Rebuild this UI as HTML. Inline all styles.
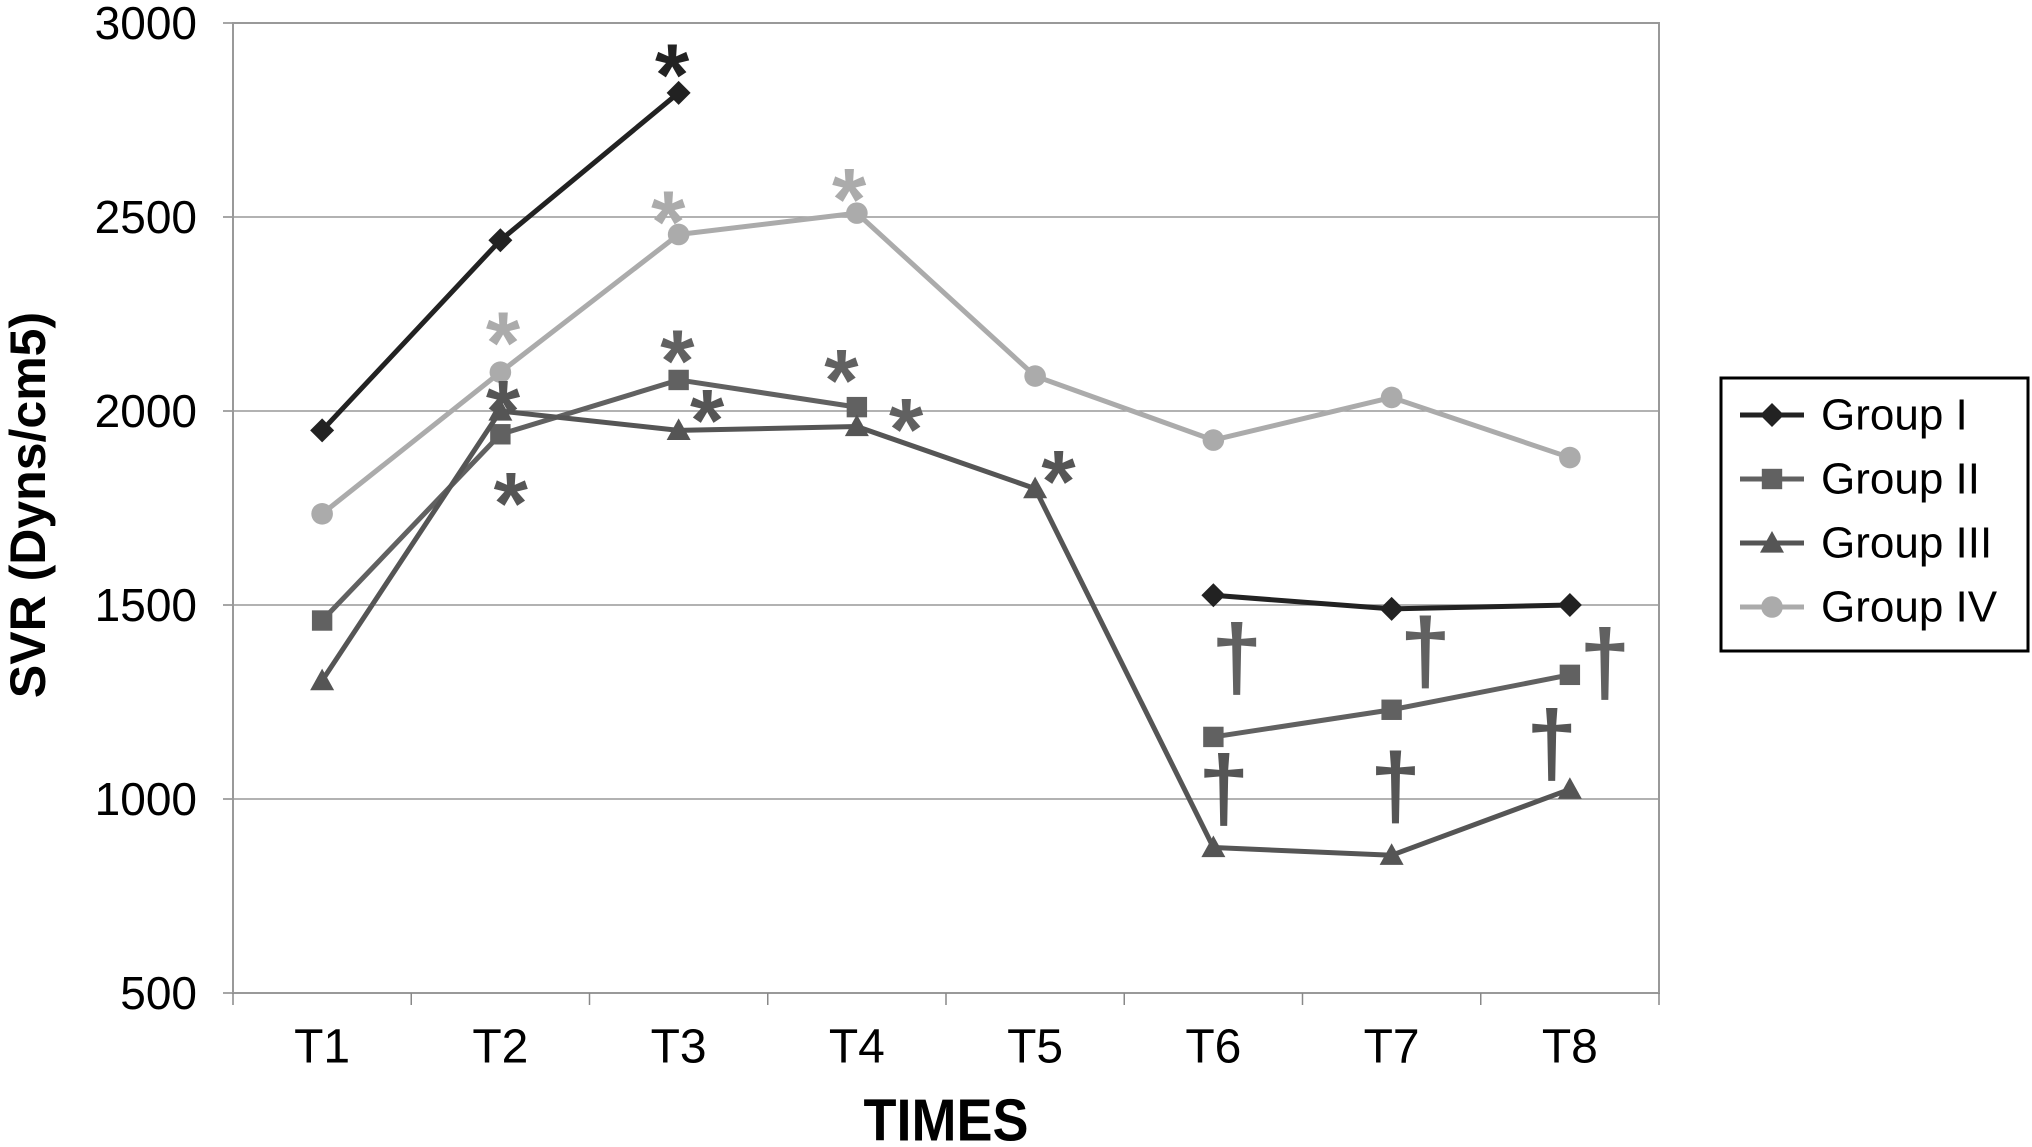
<!DOCTYPE html>
<html><head><meta charset="utf-8"><style>
html,body{margin:0;padding:0;background:#fff;}
svg{display:block;font-family:"Liberation Sans",sans-serif;}
</style></head><body>
<svg id="chart" width="2032" height="1147" viewBox="0 0 2032 1147" xmlns="http://www.w3.org/2000/svg">
<g id="grid"></g>
<g id="axes"></g>
<g id="series"></g>
<g id="ann"></g>
<text x="28" y="505" transform="rotate(-90 28 505)" text-anchor="middle" dominant-baseline="central" font-size="50" font-weight="bold" fill="#000">SVR (Dyns/cm5)</text>
<text x="946" y="1121" text-anchor="middle" dominant-baseline="central" font-size="54" font-weight="bold" fill="#000" transform="translate(946 1121) scale(1 1.1) translate(-946 -1121)">TIMES</text>
<g>
<rect x="1721" y="378" width="307" height="273" fill="#fff" stroke="#000" stroke-width="3"/>
<g id="legend"></g>
</g>
</svg>
<script>
const categories = ["T1","T2","T3","T4","T5","T6","T7","T8"];
const yTicks = [500,1000,1500,2000,2500,3000];
const seriesNames = ["Group I","Group II","Group III","Group IV"];
const group1 = [1950,2440,2820,null,null,1525,1490,1500];
const group2 = [1460,1940,2080,2010,null,1160,1230,1320];
const group3 = [1305,2000,1950,1960,1800,875,855,1025];
const group4 = [1735,2100,2455,2510,2090,1925,2035,1880];
const colors = ["#222222","#616161","#555555","#ababab"];
const markers = ["diamond","square","triangle","circle"];
const annSeries = [0,3,3,3,1,1,2,2,2,1,2,1,1,1,2,2,2];
const annIndex  = [2,1,2,3,2,3,1,1,2,3,4,5,6,7,5,6,7];
const annChar   = ["*","*","*","*","*","*","*","*","*","*","*","†","†","†","†","†","†"];

const NS="http://www.w3.org/2000/svg";
const L=233,R=1659,T=23,B=993;
const step=(R-L)/categories.length;
const xs=i=>L+step*(i+0.5);
const ys=v=>B-(v-500)/2500*(B-T);
function mk(tag,attrs,parent){const e=document.createElementNS(NS,tag);for(const k in attrs)e.setAttribute(k,attrs[k]);parent.appendChild(e);return e;}
const grid=document.getElementById('grid'),axes=document.getElementById('axes');
yTicks.forEach(v=>{
  if(v>500){const g=mk('line',{x1:L,x2:R,y1:ys(v),y2:ys(v),stroke:'#999','stroke-width':1.5},grid);
  
  }
  const tk=mk('line',{x1:L-10,x2:L,y1:ys(v),y2:ys(v),stroke:'#888','stroke-width':1.5},axes);
  
  
  const t=mk('text',{x:L-36,y:ys(v),'text-anchor':'end','dominant-baseline':'central','font-size':46,fill:'#000'},axes);
  t.textContent=v;
  
  
});
const frame=mk('rect',{x:L,y:T,width:R-L,height:B-T,fill:'none',stroke:'#999','stroke-width':2},axes);


for(let i=0;i<=categories.length;i++){
  const tk=mk('line',{x1:L+step*i,x2:L+step*i,y1:B,y2:B+12,stroke:'#888','stroke-width':1.5},axes);
  
  
}
categories.forEach((c,i)=>{
  const t=mk('text',{x:xs(i),y:1047,'text-anchor':'middle','dominant-baseline':'central','font-size':48,fill:'#000'},axes);
  t.textContent=c;
  
  
});
function marker(type,x,y,color,parent,s){
  let e;
  if(type==='diamond')e=mk('polygon',{points:`${x},${y-s} ${x+s},${y} ${x},${y+s} ${x-s},${y}`,fill:color},parent);
  else if(type==='square')e=mk('rect',{x:x-s*0.85,y:y-s*0.85,width:s*1.7,height:s*1.7,fill:color},parent);
  else if(type==='triangle')e=mk('polygon',{points:`${x},${y-s} ${x+s},${y+s*0.8} ${x-s},${y+s*0.8}`,fill:color},parent);
  else e=mk('circle',{cx:x,cy:y,r:s*0.9,fill:color},parent);
  return e;
}
const all=[group1,group2,group3,group4];
const sg=document.getElementById('series');
all.forEach((data,si)=>{
  const g=mk('g',{},sg);
  
  
  let seg=[];const segs=[];
  data.forEach((v,i)=>{if(v==null){if(seg.length)segs.push(seg);seg=[];}else seg.push([xs(i),ys(v)]);});
  if(seg.length)segs.push(seg);
  segs.forEach(s=>{
    const p=mk('polyline',{points:s.map(q=>q.join(',')).join(' '),fill:'none',stroke:colors[si],'stroke-width':5,'stroke-linejoin':'round'},g);
    
    
  });
  data.forEach((v,i)=>{if(v==null)return;
    const m=marker(markers[si],xs(i),ys(v),colors[si],g,12);
    
    
  });
});
// annotation offsets (pixels) relative to their data point
const offs=[[-5,-31],[2,-40],[-8,-27],[-6,-28],[-1,-32],[-12,-38],[2,-17],[8,54],[22,-25],[38,0],[18,-23],[18,-66],[26,-50],[27,-14],[8,-50],[3,-58],[-14,-40]];
const ag=document.getElementById('ann');
annSeries.forEach((s,k)=>{
  const v=all[s][annIndex[k]];
  const x=xs(annIndex[k])+offs[k][0]*1.296, y=ys(v)+offs[k][1]*1.296;
  const isStar=annChar[k]==='*';
  const t=mk('text',{x:x,y:isStar?y+22:y+6,'text-anchor':'middle','dominant-baseline':'central','font-size':isStar?88:92,'font-weight':'bold',fill:colors[s]},ag);
  t.textContent=annChar[k];
  
  
});
const lg=document.getElementById('legend');
seriesNames.forEach((n,i)=>{
  const y=415+i*64;
  const e=mk('g',{},lg);
  
  
  mk('line',{x1:1740,x2:1804,y1:y,y2:y,stroke:colors[i],'stroke-width':5},e);
  marker(markers[i],1772,y,colors[i],e,12);
  const t=mk('text',{x:1821,y:y,'dominant-baseline':'central','font-size':44,fill:'#000'},e);
  t.textContent=n;
});
</script>
</body></html>
